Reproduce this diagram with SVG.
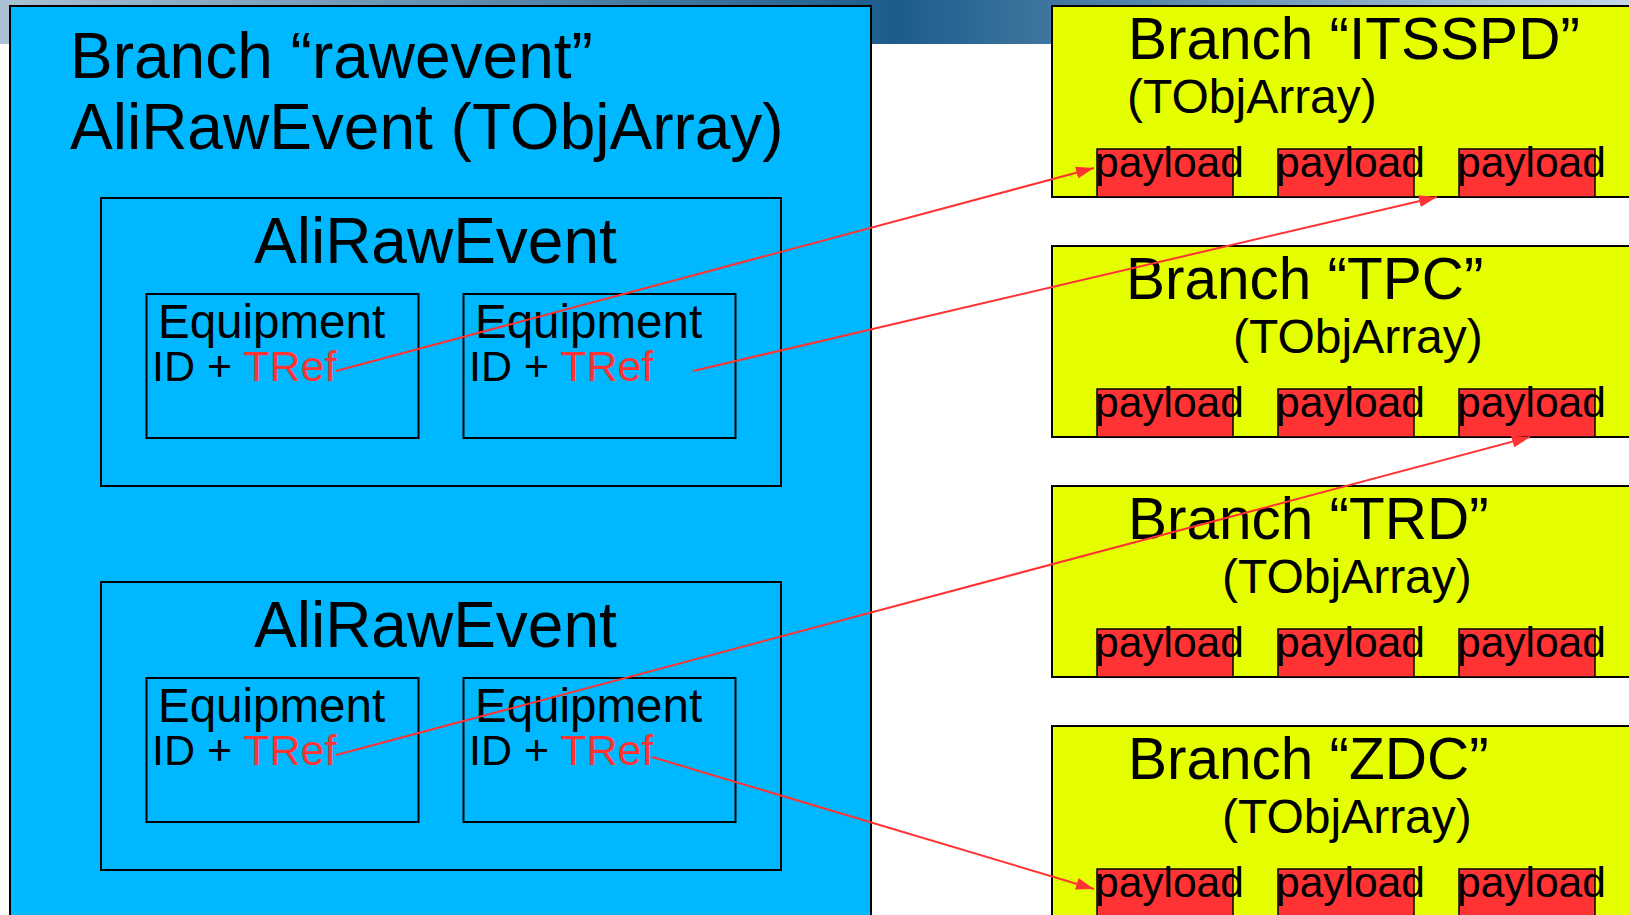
<svg xmlns="http://www.w3.org/2000/svg" width="1629" height="915" viewBox="0 0 1629 915">
  <defs>
    <linearGradient id="band" x1="0" y1="0" x2="1" y2="0">
      <stop offset="0" stop-color="#a9c1d3"/>
      <stop offset="0.55" stop-color="#1c5c8c"/>
      <stop offset="1" stop-color="#c4d6e4"/>
    </linearGradient>
    <marker id="arrow" viewBox="0 0 18 12" refX="18" refY="6" markerWidth="18" markerHeight="12" markerUnits="userSpaceOnUse" orient="auto">
      <path d="M0,0 L18,6 L0,12 z" fill="#ff3333"/>
    </marker>
    <style>
      text { font-family: "Liberation Sans", Arial, sans-serif; fill: #000; }
      .blue { fill: #00b8ff; stroke: #000; stroke-width: 2; }
      .yellow { fill: #e6ff00; stroke: #000; stroke-width: 2; }
      .red { fill: #ff3333; stroke: #000; stroke-width: 1.5; }
      .title { font-size: 64px; }
      .sub { font-size: 58.5px; }
      .arr { font-size: 48px; }
      .pl { font-size: 42.5px; }
      .eq { font-size: 47.5px; }
      .id { font-size: 43px; }
      .ref { fill: #ff3333; }
      .link { stroke: #ff3333; stroke-width: 2; fill: none; marker-end: url(#arrow); }
    </style>
  </defs>

  <!-- page background with header band -->
  <rect x="0" y="0" width="1629" height="915" fill="#fff"/>
  <rect x="0" y="0" width="1629" height="44" fill="url(#band)"/>

  <!-- raw event branch -->
  <g id="branch-rawevent">
    <rect class="blue" x="10" y="6" width="861" height="920"/>
    <text class="title" x="70" y="78">Branch “rawevent”</text>
    <text class="title" x="70" y="149">AliRawEvent (TObjArray)</text>
  </g>

  <g id="event-1">
    <rect class="blue" x="101" y="198" width="680" height="288"/>
    <text class="title" x="254" y="263">AliRawEvent</text>
    <g id="event-1-eq-1">
      <rect class="blue" x="146.5" y="294" width="272" height="144"/>
      <text class="eq" x="158" y="338">Equipment</text>
      <text class="id" x="152" y="381">ID + <tspan class="ref">TRef</tspan></text>
    </g>
    <g id="event-1-eq-2">
      <rect class="blue" x="463.5" y="294" width="272" height="144"/>
      <text class="eq" x="475" y="338">Equipment</text>
      <text class="id" x="469" y="381">ID + <tspan class="ref">TRef</tspan></text>
    </g>
  </g>

  <g id="event-2">
    <rect class="blue" x="101" y="582" width="680" height="288"/>
    <text class="title" x="254" y="647">AliRawEvent</text>
    <g id="event-2-eq-1">
      <rect class="blue" x="146.5" y="678" width="272" height="144"/>
      <text class="eq" x="158" y="722">Equipment</text>
      <text class="id" x="152" y="765">ID + <tspan class="ref">TRef</tspan></text>
    </g>
    <g id="event-2-eq-2">
      <rect class="blue" x="463.5" y="678" width="272" height="144"/>
      <text class="eq" x="475" y="722">Equipment</text>
      <text class="id" x="469" y="765">ID + <tspan class="ref">TRef</tspan></text>
    </g>
  </g>

  <!-- detector branches -->
  <g id="branch-itsspd">
    <rect class="yellow" x="1052" y="6" width="600" height="191"/>
    <text class="sub" x="1128" y="59">Branch “ITSSPD”</text>
    <text class="arr" x="1127" y="113">(TObjArray)</text>
    <rect class="red" x="1097" y="149" width="136" height="48"/>
    <rect class="red" x="1278" y="149" width="136" height="48"/>
    <rect class="red" x="1459" y="149" width="136" height="48"/>
    <text class="pl" x="1095" y="177">payload</text>
    <text class="pl" x="1276" y="177">payload</text>
    <text class="pl" x="1457" y="177">payload</text>
  </g>

  <g id="branch-tpc">
    <rect class="yellow" x="1052" y="246" width="600" height="191"/>
    <text class="sub" x="1126" y="299">Branch “TPC”</text>
    <text class="arr" x="1233" y="353">(TObjArray)</text>
    <rect class="red" x="1097" y="389" width="136" height="48"/>
    <rect class="red" x="1278" y="389" width="136" height="48"/>
    <rect class="red" x="1459" y="389" width="136" height="48"/>
    <text class="pl" x="1095" y="417">payload</text>
    <text class="pl" x="1276" y="417">payload</text>
    <text class="pl" x="1457" y="417">payload</text>
  </g>

  <g id="branch-trd">
    <rect class="yellow" x="1052" y="486" width="600" height="191"/>
    <text class="sub" x="1128" y="539">Branch “TRD”</text>
    <text class="arr" x="1222" y="593">(TObjArray)</text>
    <rect class="red" x="1097" y="629" width="136" height="48"/>
    <rect class="red" x="1278" y="629" width="136" height="48"/>
    <rect class="red" x="1459" y="629" width="136" height="48"/>
    <text class="pl" x="1095" y="657">payload</text>
    <text class="pl" x="1276" y="657">payload</text>
    <text class="pl" x="1457" y="657">payload</text>
  </g>

  <g id="branch-zdc">
    <rect class="yellow" x="1052" y="726" width="600" height="220"/>
    <text class="sub" x="1128" y="779">Branch “ZDC”</text>
    <text class="arr" x="1222" y="833">(TObjArray)</text>
    <rect class="red" x="1097" y="869" width="136" height="60"/>
    <rect class="red" x="1278" y="869" width="136" height="60"/>
    <rect class="red" x="1459" y="869" width="136" height="60"/>
    <text class="pl" x="1095" y="897">payload</text>
    <text class="pl" x="1276" y="897">payload</text>
    <text class="pl" x="1457" y="897">payload</text>
  </g>

  <!-- references from equipment TRefs to payloads -->
  <g id="connectors">
    <line class="link" x1="336" y1="371" x2="1094" y2="168"/>
    <line class="link" x1="693" y1="371" x2="1437" y2="197"/>
    <line class="link" x1="336" y1="755" x2="1530" y2="437"/>
    <line class="link" x1="652" y1="757" x2="1094" y2="889"/>
  </g>
</svg>
